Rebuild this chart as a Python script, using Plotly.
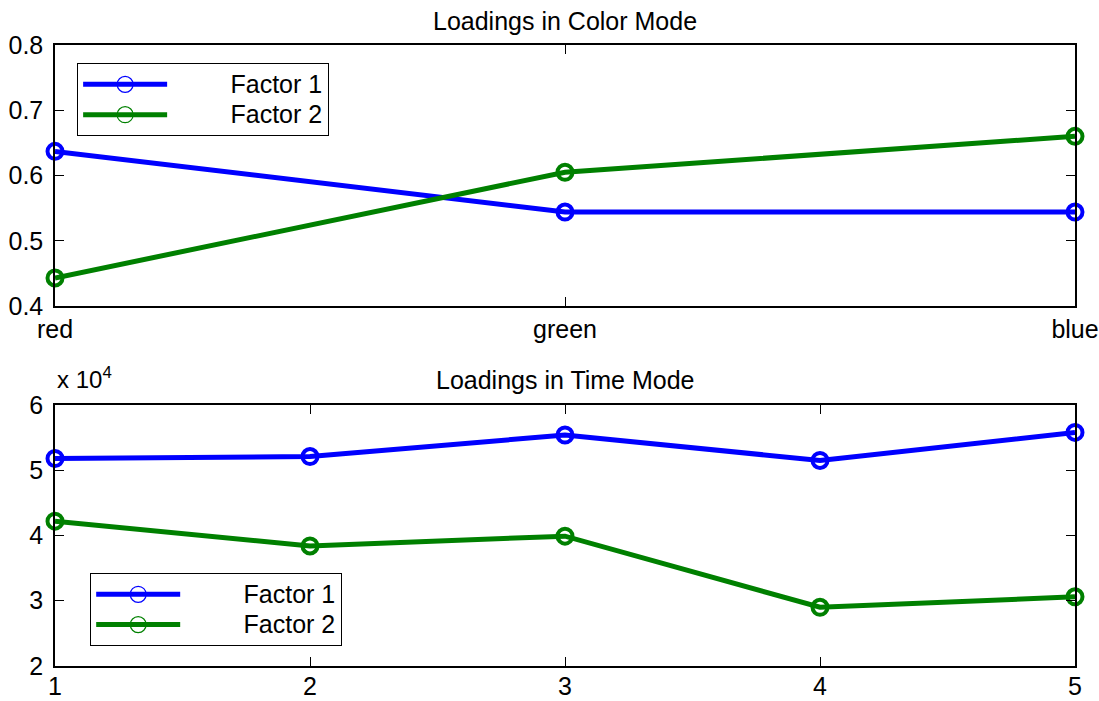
import plotly.graph_objects as go
from plotly.subplots import make_subplots

# Color-mode loadings
colors = ["red", "green", "blue"]
color_f1 = [0.637, 0.544, 0.544]
color_f2 = [0.443, 0.605, 0.660]

# Time-mode loadings
times = [1, 2, 3, 4, 5]
time_f1 = [51800, 52100, 55400, 51500, 55800]
time_f2 = [42200, 38400, 39900, 29000, 30600]

factor_names = ["Factor 1", "Factor 2"]
line_colors = ["#0000ff", "#008000"]

color_ticks = [0.4, 0.5, 0.6, 0.7, 0.8]
time_tickvals = [20000, 30000, 40000, 50000, 60000]
time_ticktext = ["2", "3", "4", "5", "6"]

FONT = "Liberation Sans, Arial, Helvetica, sans-serif"
TICK_SIZE = 25

fig = make_subplots(rows=2, cols=1, vertical_spacing=0.0)

series = [
    (colors, color_f1, 1), (colors, color_f2, 1),
    (times, time_f1, 2), (times, time_f2, 2),
]
for i, (xs, ys, row) in enumerate(series):
    c = line_colors[i % 2]
    fig.add_trace(go.Scatter(
        x=xs, y=ys, mode="lines+markers", showlegend=False,
        line=dict(color=c, width=5),
        marker=dict(symbol="circle-open", size=15, color=c, line=dict(width=4, color=c)),
        cliponaxis=False,
    ), row=row, col=1)

# Legend entries: thick line with thin open circle
pad = "\u00a0" * 10
for legend_id, row in (("legend", 1), ("legend2", 2)):
    for name, c in zip(factor_names, line_colors):
        fig.add_trace(go.Scatter(
            x=[None], y=[None], mode="lines+markers",
            name=pad + f"<span style='font-size:25px'>{name}</span>",
            line=dict(color=c, width=5),
            marker=dict(symbol="circle-open", size=17, color=c, line=dict(width=1.2, color=c)),
            legend=legend_id, showlegend=True,
        ), row=row, col=1)

axis_style = dict(
    showline=True, linecolor="black", linewidth=1.5, mirror="ticks",
    ticks="inside", ticklen=9, tickwidth=1, tickcolor="black",
    showgrid=False, zeroline=False, automargin=False,
    tickfont=dict(family=FONT, size=TICK_SIZE, color="black"),
)

fig.update_xaxes(**axis_style)
fig.update_yaxes(ticklabelstandoff=5, **axis_style)

fig.update_xaxes(type="category", range=[0, 2], domain=[0, 1], row=1, col=1)
fig.update_yaxes(range=[0.4, 0.8], tickvals=color_ticks,
                 ticktext=[f"{v:.1f}" for v in color_ticks],
                 domain=[0.5797, 1.0], row=1, col=1)
fig.update_xaxes(range=[1, 5], tickvals=times, domain=[0, 1], ticklabelstandoff=-3,
                 row=2, col=1)
fig.update_yaxes(range=[20000, 60000], tickvals=time_tickvals, ticktext=time_ticktext,
                 domain=[0.0, 0.4203], row=2, col=1)

legend_style = dict(
    bgcolor="white", bordercolor="black", borderwidth=1.2,
    font=dict(family=FONT, size=21, color="black"),
    itemwidth=84, tracegroupgap=0, xanchor="left", yanchor="top",
)

fig.update_layout(
    width=1099, height=701,
    margin=dict(l=55, r=24, t=45, b=35),
    paper_bgcolor="white", plot_bgcolor="white",
    font=dict(family=FONT, color="black"),
    legend=dict(x=0.0215, y=0.971, **legend_style),
    legend2=dict(x=0.0343, y=0.1498, **legend_style),
    annotations=[
        dict(text="Loadings in Color Mode", x=0.5, y=1.0386, xref="paper", yref="paper",
             showarrow=False, xanchor="center", yanchor="middle",
             font=dict(family=FONT, size=25, color="black")),
        dict(text="Loadings in Time Mode", x=0.5, y=0.4598, xref="paper", yref="paper",
             showarrow=False, xanchor="center", yanchor="middle",
             font=dict(family=FONT, size=25, color="black")),
        dict(text="x 10<sup>4</sup>", x=0.0, y=0.4357, xref="paper", yref="paper",
             showarrow=False, xanchor="left", yanchor="bottom",
             font=dict(family=FONT, size=24, color="black")),
    ],
)

fig.write_html("out.html")
